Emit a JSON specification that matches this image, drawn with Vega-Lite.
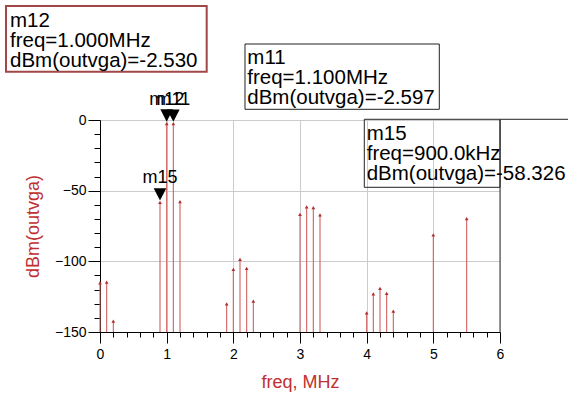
{
  "$schema": "https://vega.github.io/schema/vega-lite/v6.json",
  "width": 400,
  "height": 212,
  "autosize": {"type": "none"},
  "padding": {"left": 100, "top": 120, "right": 69, "bottom": 62},
  "background": "white",
  "config": {
    "view": {"stroke": "#999999", "strokeWidth": 1},
    "font": "Liberation Sans"
  },
  "datasets": {
    "stems": [
      {"freq": 0.0, "dBm": -115.2},
      {"freq": 0.1, "dBm": -114.7},
      {"freq": 0.2, "dBm": -142.3},
      {"freq": 0.9, "dBm": -58.326},
      {"freq": 1.0, "dBm": -2.53},
      {"freq": 1.1, "dBm": -2.597},
      {"freq": 1.2, "dBm": -57.8},
      {"freq": 1.9, "dBm": -130.1},
      {"freq": 2.0, "dBm": -105.7},
      {"freq": 2.1, "dBm": -98.6},
      {"freq": 2.2, "dBm": -105.0},
      {"freq": 2.3, "dBm": -128.2},
      {"freq": 3.0, "dBm": -66.7},
      {"freq": 3.1, "dBm": -61.5},
      {"freq": 3.2, "dBm": -62.0},
      {"freq": 3.3, "dBm": -67.2},
      {"freq": 4.0, "dBm": -136.4},
      {"freq": 4.1, "dBm": -123.0},
      {"freq": 4.2, "dBm": -119.2},
      {"freq": 4.3, "dBm": -122.7},
      {"freq": 4.4, "dBm": -135.2},
      {"freq": 5.0, "dBm": -81.3},
      {"freq": 5.5, "dBm": -69.8}
    ],
    "markers": [
      {"name": "m12", "freq": 1.0, "dBm": -2.53},
      {"name": "m11", "freq": 1.1, "dBm": -2.597},
      {"name": "m15", "freq": 0.9, "dBm": -58.326}
    ],
    "boxes": [
      {"name": "m12", "freq": -1.41, "freq2": 1.6005, "dBm": 80.66, "dBm2": 34.17},
      {"name": "m11", "freq": 2.175, "freq2": 5.0895, "dBm": 53.77, "dBm2": 7.57},
      {"name": "m15", "freq": 3.9645, "freq2": 6.0, "dBm": 0.5, "dBm2": -47.62}
    ],
    "boxtext": [
      {"name": "m12", "freq": -1.35, "dBm": 66.0, "text": "m12\nfreq=1.000MHz\ndBm(outvga)=-2.530"},
      {"name": "m11", "freq": 2.2095, "dBm": 39.62, "text": "m11\nfreq=1.100MHz\ndBm(outvga)=-2.597"},
      {"name": "m15", "freq": 4.0005, "dBm": -14.15, "text": "m15\nfreq=900.0kHz\ndBm(outvga)=-58.326"}
    ],
    "edges": [
      {"freq": 6.0, "freq2": 7.02, "dBm": 0.5}
    ],
    "frame": [
      {"freq": 6.0, "dBm": 0}
    ]
  },
  "encoding": {
    "x": {
      "field": "freq", "type": "quantitative",
      "scale": {"domain": [0, 6], "nice": false, "zero": false},
      "axis": {
        "values": [0, 0.2, 0.4, 0.6, 0.8, 1, 1.2, 1.4, 1.6, 1.8, 2, 2.2, 2.4, 2.6, 2.8, 3, 3.2, 3.4, 3.6, 3.8, 4, 4.2, 4.4, 4.6, 4.8, 5, 5.2, 5.4, 5.6, 5.8, 6],
        "labelExpr": "abs(datum.value - round(datum.value)) < 0.001 ? format(datum.value, 'd') : ''",
        "tickSize": {"condition": {"test": "abs(datum.value - round(datum.value)) < 0.001", "value": 11}, "value": 5},
        "grid": true,
        "gridColor": "#cccccc",
        "gridOpacity": {"condition": {"test": "abs(datum.value - round(datum.value)) < 0.001", "value": 1}, "value": 0},
        "domainColor": "#000000",
        "tickColor": "#000000",
        "labelColor": "#000000",
        "labelFontSize": 14,
        "labelFont": "Liberation Sans",
        "labelOverlap": false,
        "labelFlush": false,
        "labelPadding": 4,
        "title": "freq, MHz",
        "titleColor": "#c03030",
        "titleFont": "Liberation Sans",
        "titleFontSize": 18,
        "titleFontWeight": "normal",
        "titlePadding": 12
      }
    },
    "y": {
      "field": "dBm", "type": "quantitative",
      "scale": {"domain": [-150, 0], "nice": false, "zero": false},
      "axis": {
        "values": [-150, -140, -130, -120, -110, -100, -90, -80, -70, -60, -50, -40, -30, -20, -10, 0],
        "labelExpr": "datum.value % 50 === 0 ? format(datum.value, 'd') : ''",
        "tickSize": {"condition": {"test": "datum.value % 50 === 0", "value": 12}, "value": 6},
        "grid": true,
        "gridColor": "#cccccc",
        "gridOpacity": {"condition": {"test": "datum.value % 50 === 0", "value": 1}, "value": 0},
        "domainColor": "#000000",
        "tickColor": "#000000",
        "labelColor": "#000000",
        "labelFontSize": 14,
        "labelFont": "Liberation Sans",
        "labelOverlap": false,
        "labelFlush": false,
        "labelPadding": 2,
        "title": "dBm(outvga)",
        "titleColor": "#c03030",
        "titleFont": "Liberation Sans",
        "titleFontSize": 18,
        "titleFontWeight": "normal",
        "titlePadding": 12
      }
    }
  },
  "layer": [
    {
      "data": {"name": "stems"},
      "mark": {"type": "rule", "color": "#d06060", "strokeWidth": 1.1},
      "encoding": {
        "y2": {"datum": -150}
      }
    },
    {
      "data": {"name": "stems"},
      "mark": {"type": "point", "shape": "triangle-up", "filled": true, "size": 14, "color": "#b03030", "opacity": 1}
    },
    {
      "data": {"name": "frame"},
      "mark": {"type": "rule", "color": "#333333", "strokeWidth": 1},
      "encoding": {
        "y2": {"datum": -150}
      }
    },
    {
      "data": {"name": "boxes"},
      "transform": [{"filter": "datum.name === 'm12'"}],
      "mark": {"type": "rect", "fill": null, "fillOpacity": 0, "stroke": "#a04848", "strokeWidth": 2},
      "encoding": {
        "x2": {"field": "freq2"},
        "y2": {"field": "dBm2"}
      }
    },
    {
      "data": {"name": "boxes"},
      "transform": [{"filter": "datum.name !== 'm12'"}],
      "mark": {"type": "rect", "fill": null, "fillOpacity": 0, "stroke": "#222222", "strokeWidth": 1},
      "encoding": {
        "x2": {"field": "freq2"},
        "y2": {"field": "dBm2"}
      }
    },
    {
      "data": {"name": "edges"},
      "mark": {"type": "rule", "color": "#222222", "strokeWidth": 1},
      "encoding": {
        "x2": {"field": "freq2"}
      }
    },
    {
      "data": {"name": "boxtext"},
      "mark": {"type": "text", "align": "left", "baseline": "alphabetic", "fontSize": 20.5, "lineHeight": 20, "lineBreak": "\n", "font": "Liberation Sans", "color": "#000000"},
      "encoding": {
        "text": {"field": "text"}
      }
    },
    {
      "data": {"name": "markers"},
      "mark": {"type": "point", "shape": "M-1,-2.25L1,-2.25L0,-0.3Z", "filled": true, "size": 160, "color": "#000000", "opacity": 1, "strokeWidth": 0}
    },
    {
      "data": {"name": "markers"},
      "mark": {"type": "text", "align": "center", "baseline": "alphabetic", "dy": -19, "fontSize": 18, "font": "Liberation Sans", "color": "#000000"},
      "encoding": {
        "text": {"field": "name"}
      }
    }
  ]
}
